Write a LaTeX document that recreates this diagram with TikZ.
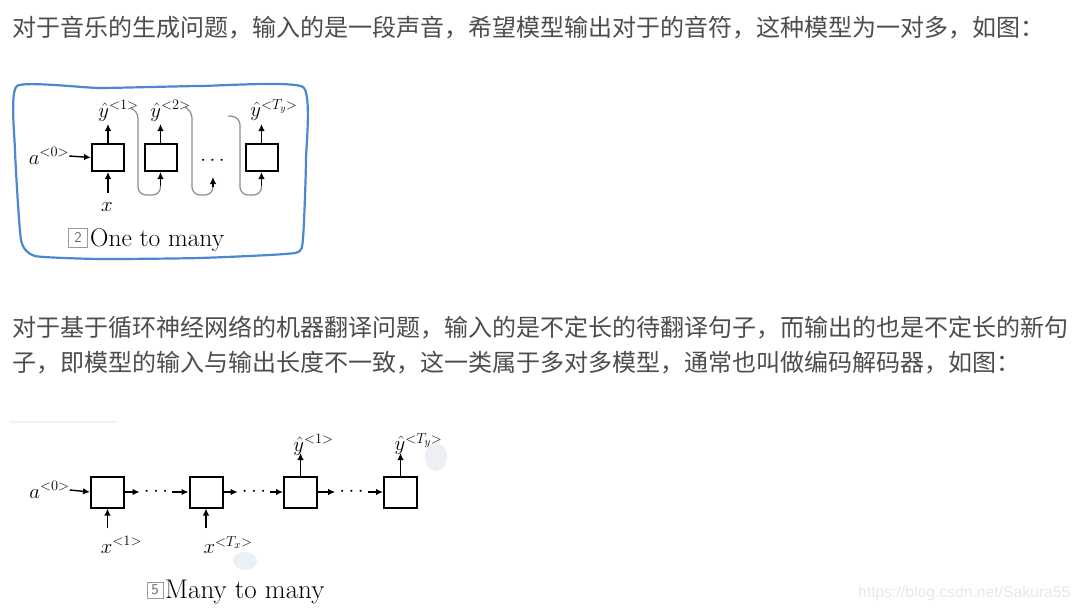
\documentclass[tikz,border=0pt]{standalone}
\usepackage{fontspec}
\newfontfamily\cjk{Noto Sans CJK SC}
\newfontfamily\wmfont{Liberation Sans}
\usetikzlibrary{arrows.meta}
\definecolor{txt}{HTML}{4D4D4D}
\definecolor{pen}{HTML}{4A88D2}
\definecolor{curvegray}{HTML}{8C8C8C}
\definecolor{capgray}{HTML}{9A9A9A}
\definecolor{wm}{HTML}{E8E8E8}
\definecolor{blobA}{HTML}{ECEFF3}
\definecolor{blobB}{HTML}{EBF0F7}
\tikzset{
  para/.style={anchor=west, inner sep=0pt, text=txt, font=\cjk\fontsize{24}{28}\selectfont},
  rnnbox/.style={draw=black, line width=2pt, minimum width=32pt, minimum height=27pt, inner sep=0pt},
  rnnboxb/.style={rnnbox, minimum width=33pt, minimum height=31pt},
  arr/.style={line width=1.4pt, -{Latex[length=7pt,width=6.5pt]}},
  gcurve/.style={draw=curvegray, line width=1.2pt, rounded corners=8pt},
  lblA/.style={inner sep=0pt, font=\fontsize{20}{24}\selectfont},
  lblB/.style={inner sep=0pt, font=\fontsize{22}{26}\selectfont},
  dotsnode/.style={inner xsep=4pt, inner ysep=0pt},
  capbox/.style={draw=capgray, line width=1pt, inner sep=0pt, text=black!60, font=\sffamily\fontsize{15}{16}\selectfont},
  captext/.style={anchor=base west, inner sep=0pt},
}
\begin{document}
\begin{tikzpicture}[x=1pt,y=-1pt]
\useasboundingbox[fill=white] (0,0) rectangle (1080,611);

% ---- paragraphs ----
\node[para] (p1) at (12,28) {对于音乐的生成问题，输入的是一段声音，希望模型输出对于的音符，这种模型为一对多，如图：};
\node[para] (p2a) at (12,328) {对于基于循环神经网络的机器翻译问题，输入的是不定长的待翻译句子，而输出的也是不定长的新句};
\node[para] (p2b) at (12,363) {子，即模型的输入与输出长度不一致，这一类属于多对多模型，通常也叫做编码解码器，如图：};

% ---- diagram 1: one to many ----
\draw[pen, line width=2.2pt, line join=round]
  plot[smooth cycle, tension=0.3] coordinates {
   (17,86) (100,88) (200,86) (303,87) (306,160) (303,238) (295,253)
   (200,258) (100,259) (35,256) (21,240) (15,150)};

\node[rnnbox] (b1) at (108,157.5) {};
\node[rnnbox] (b2) at (160.5,157.5) {};
\node[inner sep=0pt, font=\fontsize{20}{24}\selectfont] (dd) at (212.5,161) {$\cdots$};
\node[rnnbox] (b3) at (261.5,157.5) {};

\node[lblA] (a0) at (49,156) {$a^{<0>}$};
\draw[arr] (a0.east) -- (b1.west);

\coordinate (xin) at (108,193);
\draw[arr] (xin) -- (b1.south);
\node[lblA] (xl) at (107,207) {$x$};

\node[lblA] (y1) at (118.5,111) {$\hat y^{<1>}$};
\node[lblA] (y2) at (170.5,111) {$\hat y^{<2>}$};
\node[lblA] (yT) at (274,110) {$\hat y^{<T_y>}$};
\coordinate (o1) at (108,124);
\coordinate (o2) at (160.5,124);
\coordinate (o3) at (261.5,124);
\draw[arr] (b1.north) -- (o1);
\draw[arr] (b2.north) -- (o2);
\draw[arr] (b3.north) -- (o3);

% feedback curves
\coordinate (g1s) at (130,108);
\coordinate (g1e) at (160.5,186);
\draw[gcurve] (g1s) -- (138,110) -- (138,195) -- (160.5,195) -- (g1e);
\draw[arr] (g1e) -- (b2.south);

\coordinate (g2s) at (187,108);
\coordinate (g2e) at (213,187);
\coordinate (g2t) at (213,177);
\draw[gcurve] (g2s) -- (192,110) -- (192,195) -- (213,195) -- (g2e);
\draw[arr] (g2e) -- (g2t);

\coordinate (g3s) at (228,116);
\coordinate (g3e) at (261.5,186);
\draw[gcurve] (g3s) -- (240,117) -- (240,195) -- (261.5,195) -- (g3e);
\draw[arr] (g3e) -- (b3.south);

\node[capbox, minimum width=19pt, minimum height=19pt] (n2) at (78,237.5) {2};
\node[captext, font=\fontsize{25.5}{28}\selectfont] (c1) at (90,246) {One to many};

% ---- diagram 2: many to many ----
\draw[draw=black!5, line width=2pt] (10,422) -- (117,422);
\fill[blobA] (436,457) ellipse (11pt and 14pt);
\fill[blobB] (245,561) ellipse (12pt and 9pt);

\node[rnnboxb] (m1) at (107.5,492) {};
\node[rnnboxb] (m2) at (206,492) {};
\node[rnnboxb] (m3) at (300.5,492) {};
\node[rnnboxb] (m4) at (400.5,492) {};

\node[lblB] (ma0) at (49.5,490) {$a^{<0>}$};
\draw[arr] (ma0.east) -- (m1.west);

\node[dotsnode, font=\fontsize{22}{26}\selectfont] (md1) at (156,492) {$\cdots$};
\node[dotsnode, font=\fontsize{22}{26}\selectfont] (md2) at (254,492) {$\cdots$};
\node[dotsnode, font=\fontsize{22}{26}\selectfont] (md3) at (351.5,492) {$\cdots$};
\draw[arr] (m1.east) -- (md1.west);
\draw[arr] (md1.east) -- (m2.west);
\draw[arr] (m2.east) -- (md2.west);
\draw[arr] (md2.east) -- (m3.west);
\draw[arr] (m3.east) -- (md3.west);
\draw[arr] (md3.east) -- (m4.west);

\coordinate (mx1) at (107.5,528);
\coordinate (mx2) at (206,528);
\draw[arr] (mx1) -- (m1.south);
\draw[arr] (mx2) -- (m2.south);
\node[lblB] (lx1) at (121.5,545) {$x^{<1>}$};
\node[lblB] (lx2) at (228,545) {$x^{<T_x>}$};

\coordinate (my1) at (300.5,453);
\coordinate (my2) at (400.5,453);
\draw[arr] (m3.north) -- (my1);
\draw[arr] (m4.north) -- (my2);
\node[lblB] (ly1) at (313.5,445) {$\hat y^{<1>}$};
\node[lblB] (ly2) at (418.5,444) {$\hat y^{<T_y>}$};

\node[capbox, minimum width=16pt, minimum height=16pt] (n5) at (155,590) {5};
\node[captext, font=\fontsize{27}{30}\selectfont] (c2) at (165,598) {Many to many};

% watermark
\node[anchor=west, inner sep=0pt, text=wm, font=\wmfont\fontsize{15.7}{18}\selectfont] (wmk) at (858,593) {https://blog.csdn.net/Sakura55};
\end{tikzpicture}
\end{document}
